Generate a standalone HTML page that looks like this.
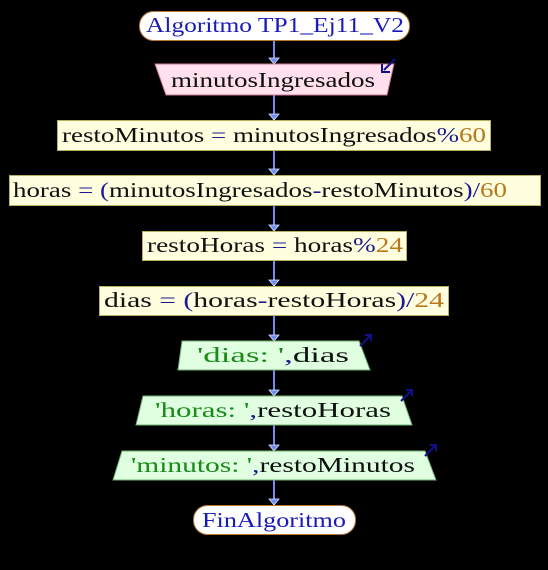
<!DOCTYPE html>
<html><head><meta charset="utf-8"><style>
html,body{margin:0;padding:0;background:#000;}
svg{display:block}
text{font-family:"Liberation Serif","DejaVu Serif",serif;font-size:21px;fill:#111;}
.k{fill:#1a1ab8}.o{fill:#1a1a90}.n{fill:#b8781c}.s{fill:#1a8a1a}
</style></head><body>
<svg width="548" height="570" viewBox="0 0 548 570" xmlns="http://www.w3.org/2000/svg">
<g stroke="#6f8cf0" stroke-width="2">
<line x1="274" y1="40" x2="274" y2="64"/>
<line x1="274" y1="95" x2="274" y2="120"/>
<line x1="274" y1="150" x2="274" y2="175"/>
<line x1="274" y1="206" x2="274" y2="231"/>
<line x1="274" y1="260" x2="274" y2="286"/>
<line x1="274" y1="315" x2="274" y2="341"/>
<line x1="274" y1="370" x2="274" y2="396"/>
<line x1="274" y1="425" x2="274" y2="451"/>
<line x1="274" y1="480" x2="274" y2="505"/>
</g>
<g fill="#6f8cf0" stroke="#dde4ff" stroke-width="0.8">
<path d="M269,58 L279,58 L274,64z"/>
<path d="M269,114 L279,114 L274,120z"/>
<path d="M269,169 L279,169 L274,175z"/>
<path d="M269,225 L279,225 L274,231z"/>
<path d="M269,280 L279,280 L274,286z"/>
<path d="M269,335 L279,335 L274,341z"/>
<path d="M269,390 L279,390 L274,396z"/>
<path d="M269,445 L279,445 L274,451z"/>
<path d="M269,499 L279,499 L274,505z"/>
</g>
<rect x="139.5" y="11.5" width="270" height="29" rx="14" fill="#fff" stroke="#b87830"/>
<polygon points="155,64 394,64 387,95 166,95" fill="#ffe0ec" stroke="#c87890"/>
<line x1="395" y1="59" x2="384" y2="70" stroke="#10108a" stroke-width="2"/><path d="M382,64 L382,72 L390,72" fill="none" stroke="#10108a" stroke-width="2"/>
<rect x="57.5" y="120.5" width="433" height="30" fill="#ffffe0" stroke="#b8b060"/>
<rect x="9.5" y="175.5" width="531" height="30" fill="#ffffe0" stroke="#b8b060"/>
<rect x="142.5" y="231.5" width="264" height="29" fill="#ffffe0" stroke="#b8b060"/>
<rect x="99.5" y="286.5" width="349" height="29" fill="#ffffe0" stroke="#b8b060"/>
<polygon points="182,341 359,341 370,370 178,370" fill="#e0ffe0" stroke="#70b070"/>
<polygon points="143,396 402,396 412,425 136,425" fill="#e0ffe0" stroke="#70b070"/>
<polygon points="122,451 425,451 436,480 113,480" fill="#e0ffe0" stroke="#70b070"/>
<g stroke="#10108a" stroke-width="2" fill="none">
<line x1="360" y1="346" x2="371" y2="335"/><path d="M365,335 L371,335 L371,341"/>
<line x1="401" y1="401" x2="412" y2="390"/><path d="M406,390 L412,390 L412,396"/>
<line x1="425" y1="456" x2="436" y2="445"/><path d="M430,445 L436,445 L436,451"/>
</g>
<rect x="193.5" y="505.5" width="162" height="29" rx="14" fill="#fff" stroke="#b87830"/>
<text x="146" y="32" class="k" textLength="258" lengthAdjust="spacingAndGlyphs">Algoritmo TP1_Ej11_V2</text>
<text x="171" y="87" textLength="204" lengthAdjust="spacingAndGlyphs">minutosIngresados</text>
<text x="62" y="142" textLength="424" lengthAdjust="spacingAndGlyphs">restoMinutos <tspan class="o">=</tspan> minutosIngresados<tspan class="o">%</tspan><tspan class="n">60</tspan></text>
<text x="13" y="197" textLength="494" lengthAdjust="spacingAndGlyphs">horas <tspan class="o">=</tspan> <tspan class="o">(</tspan>minutosIngresados<tspan class="o">-</tspan>restoMinutos<tspan class="o">)/</tspan><tspan class="n">60</tspan></text>
<text x="147" y="252" textLength="256" lengthAdjust="spacingAndGlyphs">restoHoras <tspan class="o">=</tspan> horas<tspan class="o">%</tspan><tspan class="n">24</tspan></text>
<text x="104" y="307" textLength="340" lengthAdjust="spacingAndGlyphs">dias <tspan class="o">=</tspan> <tspan class="o">(</tspan>horas<tspan class="o">-</tspan>restoHoras<tspan class="o">)/</tspan><tspan class="n">24</tspan></text>
<text x="197" y="362" textLength="152" lengthAdjust="spacingAndGlyphs"><tspan class="s">'dias: '</tspan><tspan class="o">,</tspan>dias</text>
<text x="155" y="417" textLength="236" lengthAdjust="spacingAndGlyphs"><tspan class="s">'horas: '</tspan><tspan class="o">,</tspan>restoHoras</text>
<text x="131" y="472" textLength="284" lengthAdjust="spacingAndGlyphs"><tspan class="s">'minutos: '</tspan><tspan class="o">,</tspan>restoMinutos</text>
<text x="202" y="527" class="k" textLength="144" lengthAdjust="spacingAndGlyphs">FinAlgoritmo</text>
</svg>
</body></html>
